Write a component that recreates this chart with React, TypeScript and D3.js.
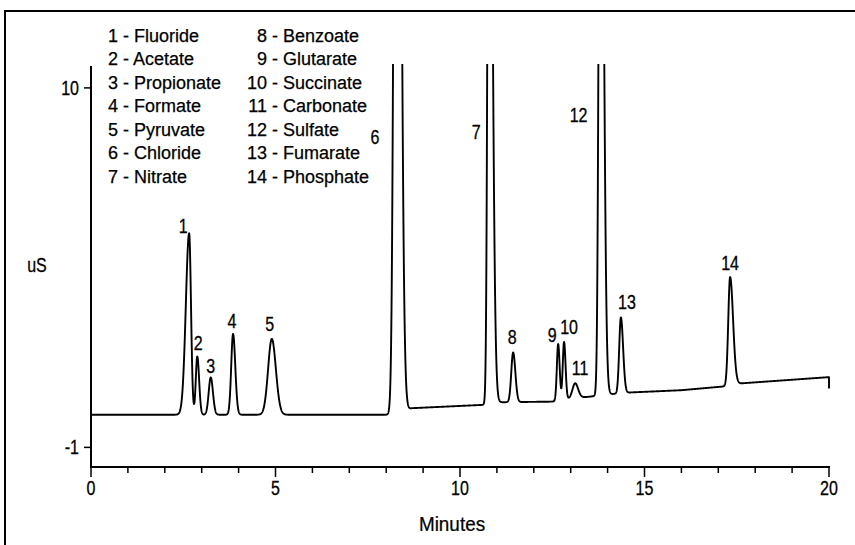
import React, { useMemo } from "react";
import * as d3 from "d3";

// Ion chromatogram of 14 anions: conductivity (uS) against retention time (minutes)

const peakNumbers = [1, 2, 3, 4, 5, 6, 7, 8, 9, 10, 11, 12, 13, 14];
const peakNames = [
  "Fluoride", "Acetate", "Propionate", "Formate", "Pyruvate", "Chloride", "Nitrate",
  "Benzoate", "Glutarate", "Succinate", "Carbonate", "Sulfate", "Fumarate", "Phosphate",
];
// retention time (min), height above baseline (uS), leading / trailing widths (min)
const peakTimes = [2.66, 2.88, 3.245, 3.85, 4.9, 8.29, 10.79, 11.44, 12.66, 12.82, 13.12, 13.81, 14.36, 17.32];
const peakHeights = [5.55, 1.78, 1.14, 2.47, 2.32, 40, 25, 1.52, 1.73, 1.76, 0.45, 25, 2.32, 3.31];
const peakSigmaLead = [0.09, 0.04, 0.055, 0.05, 0.1, 0.065, 0.04, 0.05, 0.035, 0.035, 0.07, 0.045, 0.045, 0.05];
const peakSigmaTail = [0.05, 0.05, 0.06, 0.06, 0.11, 0.09, 0.08, 0.06, 0.04, 0.04, 0.08, 0.075, 0.06, 0.08];

// baseline drift (min, uS)
const baselineTimes = [0, 8.1, 8.7, 10.6, 11.0, 12.5, 13.0, 13.5, 14.0, 14.6, 16.0, 17.2, 17.5, 20];
const baselineValues = [0, 0, 0.2, 0.3, 0.38, 0.4, 0.5, 0.55, 0.62, 0.68, 0.75, 0.87, 0.95, 1.15];
const traceEndValue = 0.8;

const xTickValues = d3.range(0, 21, 1);
const xTickLabels = [0, 5, 10, 15, 20];
const yTickLabels = [10, -1];

// label placement, pixels from each peak apex (clipped to the top of the plot)
const labelOffsets: [number, number][] = [
  [-6, -7], [1, -13], [0, -11], [-1, -13], [-2, -15], [-22, 71], [-13, 66],
  [-1, -15], [-6, -9], [5, -15], [5, -15], [-22, 49], [6, -15], [0, -14],
];

const W = 855;
const H = 545;
const X0 = 91;
const X1 = 829;
const Y0 = 467;
const Y1 = 66;
const FONT = "'Liberation Sans', Arial, Helvetica, sans-serif";

function Narrow({ x, y, children, anchor = "middle" }: any) {
  return (
    <text
      transform={`translate(${x},${y}) scale(0.8,1)`}
      textAnchor={anchor}
      dominantBaseline="central"
      fontFamily={FONT}
      fontSize={20}
      fill="#000"
      stroke="#000"
      strokeWidth={0.3}
    >
      {children}
    </text>
  );
}

export default function App() {
  const x = d3.scaleLinear().domain([0, 20]).range([X0, X1]);
  const y = d3.scaleLinear().domain([-1.6, 10.67]).range([Y0, Y1]);

  const baseline = d3.scaleLinear().domain(baselineTimes).range(baselineValues).clamp(true);

  const signal = (t: number) => {
    let v = baseline(t);
    for (let i = 0; i < peakTimes.length; i++) {
      const d = t - peakTimes[i];
      const s = d < 0 ? peakSigmaLead[i] : peakSigmaTail[i];
      v += peakHeights[i] * Math.exp(-0.5 * (d / s) * (d / s));
    }
    return v;
  };

  const points = useMemo(() => {
    const pts: [number, number][] = d3.range(0, 20.0001, 0.004).map((t) => [t, signal(t)]);
    pts.push([20, traceEndValue]);
    return pts;
  }, []);

  const line = d3
    .line<[number, number]>()
    .x((d) => x(d[0]))
    .y((d) => y(d[1]));

  const yMax = y.domain()[1];

  return (
    <svg
      width={W}
      height={H}
      style={{ position: "absolute", left: 0, top: 0, background: "#fff" }}
    >
      <defs>
        <clipPath id="plotArea">
          <rect x={X0 - 2} y={Y1 - 2} width={X1 - X0 + 6} height={Y0 - Y1 + 2} />
        </clipPath>
      </defs>

      {/* outer frame */}
      <path d={`M5,${H} V11 H${W}`} fill="none" stroke="#000" strokeWidth={2} />

      {/* legend */}
      {peakNumbers.map((n, i) => {
        const col = i < 7 ? 0 : 1;
        const row = i % 7;
        const numEnd = col === 0 ? 118 : 267;
        const yy = 41.5 + row * 23.5;
        return (
          <g key={n} fontFamily={FONT} fontSize={18} fill="#000" stroke="#000" strokeWidth={0.25}>
            <text x={numEnd} y={yy} textAnchor="end">{n}</text>
            <text x={numEnd + 5} y={yy}>{`- ${peakNames[i]}`}</text>
          </g>
        );
      })}

      {/* axes */}
      <line x1={X0} x2={X0} y1={Y1} y2={Y0 + 1} stroke="#000" strokeWidth={2} />
      <line x1={X0} x2={X1 + 1} y1={Y0} y2={Y0} stroke="#000" strokeWidth={2} />
      {xTickValues.map((t) => (
        <line
          key={t}
          x1={x(t)}
          x2={x(t)}
          y1={Y0}
          y2={Y0 + (t % 5 === 0 ? 10 : 6)}
          stroke="#000"
          strokeWidth={1.5}
        />
      ))}
      {xTickLabels.map((t) => (
        <Narrow key={t} x={x(t)} y={488}>{t}</Narrow>
      ))}
      {yTickLabels.map((v) => (
        <g key={v}>
          <line x1={X0 - 7} x2={X0} y1={y(v)} y2={y(v)} stroke="#000" strokeWidth={1.5} />
          <Narrow x={79} y={y(v)} anchor="end">{v}</Narrow>
        </g>
      ))}
      <Narrow x={37} y={265}>uS</Narrow>
      <text
        transform="translate(452,524) scale(0.9,1)"
        textAnchor="middle"
        dominantBaseline="central"
        fontFamily={FONT}
        fontSize={21}
        fill="#000"
        stroke="#000"
        strokeWidth={0.25}
      >
        Minutes
      </text>

      {/* chromatogram trace */}
      <path
        d={line(points) || ""}
        fill="none"
        stroke="#000"
        strokeWidth={1.9}
        strokeLinejoin="round"
        clipPath="url(#plotArea)"
      />

      {/* peak numbers */}
      {peakNumbers.map((n, i) => {
        const t = peakTimes[i];
        const apex = Math.min(signal(t), yMax);
        const [dx, dy] = labelOffsets[i];
        return (
          <Narrow key={n} x={x(t) + dx} y={y(apex) + dy}>{n}</Narrow>
        );
      })}
    </svg>
  );
}
